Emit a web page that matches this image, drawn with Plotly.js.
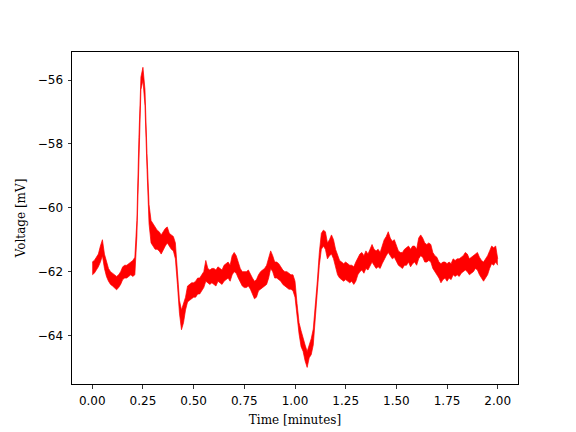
<!DOCTYPE html>
<html>
<head>
<meta charset="utf-8">
<script src="https://cdn.plot.ly/plotly-3.0.1.min.js"></script>
<style>html,body{margin:0;padding:0;background:#fff;}#chart{width:576px;height:432px;}</style>
</head>
<body>
<div id="chart"></div>
<script>
// Time in minutes (sampled every 0.01 min)
const timeMin = [
0.00,0.01,0.02,0.03,0.04,0.05,0.06,0.07,0.08,0.09,
0.10,0.11,0.12,0.13,0.14,0.15,0.16,0.17,0.18,0.19,
0.20,0.21,0.22,0.23,0.24,0.25,0.26,0.27,0.28,0.29,
0.30,0.31,0.32,0.33,0.34,0.35,0.36,0.37,0.38,0.39,
0.40,0.41,0.42,0.43,0.44,0.45,0.46,0.47,0.48,0.49,
0.50,0.51,0.52,0.53,0.54,0.55,0.56,0.57,0.58,0.59,
0.60,0.61,0.62,0.63,0.64,0.65,0.66,0.67,0.68,0.69,
0.70,0.71,0.72,0.73,0.74,0.75,0.76,0.77,0.78,0.79,
0.80,0.81,0.82,0.83,0.84,0.85,0.86,0.87,0.88,0.89,
0.90,0.91,0.92,0.93,0.94,0.95,0.96,0.97,0.98,0.99,
1.00,1.01,1.02,1.03,1.04,1.05,1.06,1.07,1.08,1.09,
1.10,1.11,1.12,1.13,1.14,1.15,1.16,1.17,1.18,1.19,
1.20,1.21,1.22,1.23,1.24,1.25,1.26,1.27,1.28,1.29,
1.30,1.31,1.32,1.33,1.34,1.35,1.36,1.37,1.38,1.39,
1.40,1.41,1.42,1.43,1.44,1.45,1.46,1.47,1.48,1.49,
1.50,1.51,1.52,1.53,1.54,1.55,1.56,1.57,1.58,1.59,
1.60,1.61,1.62,1.63,1.64,1.65,1.66,1.67,1.68,1.69,
1.70,1.71,1.72,1.73,1.74,1.75,1.76,1.77,1.78,1.79,
1.80,1.81,1.82,1.83,1.84,1.85,1.86,1.87,1.88,1.89,
1.90,1.91,1.92,1.93,1.94,1.95,1.96,1.97,1.98,1.99,
2.00];

// Lower edge of the noisy voltage trace (mV)
const voltageLow = [
-62.10,-62.05,-61.95,-61.85,-61.70,-61.50,-61.90,-62.15,-62.30,-62.40,
-62.45,-62.50,-62.57,-62.50,-62.40,-62.25,-62.20,-62.20,-62.15,-62.10,
-62.15,-62.10,-60.90,-58.30,-56.30,-56.00,-56.80,-58.80,-60.50,-61.10,
-61.20,-61.30,-61.30,-61.35,-61.45,-61.30,-61.20,-61.10,-61.20,-61.30,
-61.35,-61.60,-62.40,-63.30,-63.82,-63.60,-63.20,-62.95,-62.90,-62.85,
-62.80,-62.80,-62.70,-62.70,-62.60,-62.50,-62.30,-62.35,-62.40,-62.35,
-62.40,-62.45,-62.30,-62.35,-62.40,-62.30,-62.25,-62.20,-62.30,-62.10,
-62.00,-62.05,-62.20,-62.35,-62.45,-62.50,-62.50,-62.45,-62.55,-62.70,
-62.85,-62.80,-62.60,-62.55,-62.50,-62.45,-62.40,-62.20,-61.90,-62.00,
-62.20,-62.20,-62.25,-62.30,-62.40,-62.45,-62.50,-62.55,-62.55,-62.60,
-62.80,-63.40,-63.95,-64.35,-64.50,-64.80,-65.00,-64.70,-64.60,-64.30,
-63.50,-62.70,-61.80,-61.30,-61.20,-61.30,-61.60,-61.50,-61.45,-61.60,
-61.90,-62.10,-62.20,-62.25,-62.30,-62.25,-62.30,-62.35,-62.30,-62.40,
-62.30,-62.10,-62.00,-61.95,-62.05,-61.90,-61.95,-61.80,-61.70,-61.80,
-61.90,-61.85,-61.90,-61.75,-61.60,-61.50,-61.40,-61.50,-61.60,-61.55,
-61.70,-61.80,-61.85,-61.90,-61.80,-61.80,-61.70,-61.85,-61.75,-61.70,
-61.80,-61.60,-61.50,-61.55,-61.70,-61.70,-61.65,-61.70,-61.90,-62.00,
-62.10,-62.20,-62.35,-62.25,-62.20,-62.30,-62.20,-62.25,-62.10,-62.15,
-62.10,-62.15,-62.05,-62.00,-61.95,-62.00,-62.10,-62.05,-62.00,-61.90,
-61.95,-62.10,-62.20,-62.30,-62.20,-62.10,-61.90,-61.75,-61.80,-61.70,
-61.80];

// Upper edge of the noisy voltage trace (mV)
const voltageHigh = [
-61.70,-61.65,-61.55,-61.45,-61.20,-61.00,-61.45,-61.70,-61.90,-62.00,
-62.05,-62.10,-62.15,-62.10,-62.00,-61.85,-61.80,-61.80,-61.75,-61.70,
-61.65,-61.55,-60.40,-57.80,-55.90,-55.60,-56.30,-58.30,-59.90,-60.40,
-60.50,-60.60,-60.70,-60.75,-60.85,-60.75,-60.65,-60.60,-60.80,-60.85,
-60.90,-61.10,-61.90,-62.90,-63.20,-63.00,-62.80,-62.45,-62.40,-62.35,
-62.35,-62.30,-62.20,-62.20,-62.10,-62.00,-61.65,-61.90,-61.95,-61.90,
-61.90,-61.95,-61.85,-61.90,-61.95,-61.80,-61.75,-61.70,-61.80,-61.50,
-61.40,-61.50,-61.70,-61.90,-62.00,-62.00,-62.00,-61.95,-62.10,-62.20,
-62.30,-62.25,-62.10,-62.00,-61.95,-61.90,-61.80,-61.60,-61.35,-61.50,
-61.70,-61.70,-61.75,-61.85,-61.95,-62.00,-62.00,-62.05,-62.10,-62.10,
-62.30,-63.00,-63.60,-63.85,-64.10,-64.30,-64.50,-64.30,-64.10,-63.80,
-63.10,-62.30,-61.40,-60.80,-60.70,-60.75,-61.10,-61.00,-60.85,-61.00,
-61.30,-61.50,-61.65,-61.70,-61.75,-61.70,-61.75,-61.80,-61.80,-61.85,
-61.70,-61.55,-61.45,-61.40,-61.50,-61.35,-61.45,-61.30,-61.15,-61.30,
-61.35,-61.30,-61.40,-61.20,-61.00,-60.90,-60.75,-60.95,-61.05,-61.00,
-61.20,-61.35,-61.40,-61.40,-61.30,-61.25,-61.20,-61.30,-61.20,-61.20,
-61.30,-60.95,-60.85,-60.95,-61.10,-61.15,-61.10,-61.15,-61.40,-61.50,
-61.55,-61.70,-61.75,-61.70,-61.70,-61.75,-61.70,-61.75,-61.60,-61.65,
-61.60,-61.60,-61.55,-61.50,-61.40,-61.45,-61.60,-61.55,-61.50,-61.45,
-61.40,-61.55,-61.65,-61.70,-61.60,-61.50,-61.35,-61.20,-61.25,-61.20,
-61.60];

const xTickVals = [0, 0.25, 0.5, 0.75, 1.0, 1.25, 1.5, 1.75, 2.0];
const xTickText = ['0.00','0.25','0.50','0.75','1.00','1.25','1.50','1.75','2.00'];
const yTickVals = [-64, -62, -60, -58, -56];

const traces = [
  {x: timeMin, y: voltageLow, type: 'scatter', mode: 'lines',
   line: {color: '#ff0000', width: 0.7}, hoverinfo: 'skip', showlegend: false},
  {x: timeMin, y: voltageHigh, type: 'scatter', mode: 'lines', fill: 'tonexty',
   fillcolor: '#ff0000', line: {color: '#ff0000', width: 0.7}, hoverinfo: 'skip', showlegend: false}
];

const axisCommon = {
  showline: true, mirror: true, linecolor: '#000', linewidth: 1,
  ticks: 'outside', ticklen: 3.5, tickwidth: 0.8, tickcolor: '#000',
  showgrid: false, zeroline: false,
  tickfont: {family: 'DejaVu Sans', size: 12, color: '#000'}
};

const layout = {
  width: 576, height: 432,
  margin: {l: 72, r: 58, t: 52, b: 48},
  paper_bgcolor: '#fff', plot_bgcolor: '#fff',
  showlegend: false,
  xaxis: Object.assign({}, axisCommon, {
    range: [-0.1, 2.1], tickvals: xTickVals, ticktext: xTickText,
    ticklabelstandoff: 2,
    title: {text: 'Time [minutes]', font: {family: 'DejaVu Serif', size: 12, color: '#000'}, standoff: 8}
  }),
  yaxis: Object.assign({}, axisCommon, {
    range: [-65.52, -55.12], tickvals: yTickVals,
    ticklabelstandoff: 2,
    title: {text: 'Voltage [mV]', font: {family: 'DejaVu Serif', size: 12, color: '#000'}, standoff: 9}
  })
};

Plotly.newPlot('chart', traces, layout, {staticPlot: true, displayModeBar: false});
</script>
</body>
</html>
